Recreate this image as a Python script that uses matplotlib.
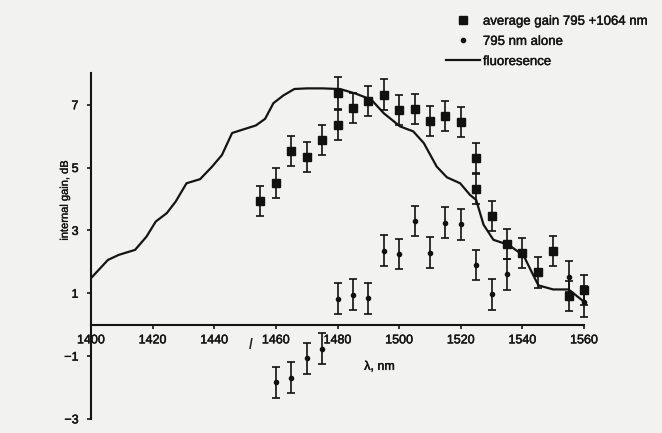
import matplotlib
matplotlib.use("Agg")
import matplotlib.pyplot as plt
from matplotlib.lines import Line2D
import matplotlib.patheffects as pe

plt.rcParams['font.family'] = ['Liberation Sans', 'DejaVu Sans']

# --- data ---
sq_wl = [1455, 1460, 1465, 1470, 1475, 1480, 1480, 1485, 1490, 1495, 1500, 1505,
         1510, 1515, 1520, 1525, 1525, 1530, 1535, 1540, 1545, 1550, 1555, 1560]
sq_gain = [3.94, 4.52, 5.53, 5.33, 5.88, 6.36, 7.37, 6.90, 7.12, 7.32, 6.84, 6.87,
           6.49, 6.65, 6.45, 5.30, 4.32, 3.46, 2.56, 2.27, 1.66, 2.35, 0.91, 1.10]
sq_err = [0.48, 0.48, 0.48, 0.48, 0.48, 0.48, 0.5, 0.48, 0.48, 0.5, 0.48, 0.48,
          0.48, 0.48, 0.48, 0.48, 0.48, 0.48, 0.48, 0.48, 0.48, 0.48, 0.48, 0.48]

c_wl = [1460, 1465, 1470, 1475, 1480, 1485, 1490, 1495, 1500, 1505, 1510, 1515,
        1520, 1525, 1530, 1535, 1555, 1560]
c_gain = [-1.83, -1.69, -1.07, -0.77, 0.82, 0.95, 0.84, 2.35, 2.25, 3.30, 2.29, 3.25,
          3.20, 1.90, 0.97, 1.60, 1.53, 0.73]
c_err = [0.49, 0.49, 0.49, 0.49, 0.49, 0.49, 0.49, 0.49, 0.49, 0.49, 0.49, 0.49,
         0.49, 0.49, 0.49, 0.49, 0.49, 0.49]

fl_wl = [1400, 1405.5, 1409, 1414.3, 1418, 1421, 1424.6, 1427.5, 1431, 1435.4, 1439.3,
         1442.5, 1445.8, 1449, 1453.5, 1456.5, 1459.2, 1462.5, 1466, 1470, 1475, 1480.8,
         1486, 1491, 1495, 1500.3, 1504.6, 1508, 1512.2, 1515.5, 1519.8, 1523, 1525,
         1527.4, 1530.6, 1535.5, 1540.4, 1543.4, 1545.2, 1550, 1555, 1560]
fl_gain = [1.48, 2.06, 2.22, 2.38, 2.8, 3.28, 3.55, 3.92, 4.5, 4.63, 5.03,
           5.4, 6.1, 6.2, 6.34, 6.55, 7.05, 7.3, 7.5, 7.52, 7.52, 7.5,
           7.35, 7.16, 6.73, 6.31, 6.15, 5.78, 5.03, 4.69, 4.5, 4.13, 3.97,
           3.18, 2.7, 2.54, 2.2, 1.6, 1.25, 1.12, 1.12, 0.73]

x_ticks = [1400, 1420, 1440, 1460, 1480, 1500, 1520, 1540, 1560]
y_ticks = [7, 5, 3, 1, -1, -3]

legend_labels = ["average gain 795 +1064 nm", "795 nm alone", "fluoresence"]

# --- figure ---
W, H = 662, 433
bg = '#f2f2f0'
ink = '#141414'
thick = [pe.withStroke(linewidth=0.35, foreground=ink)]

fig = plt.figure(figsize=(W / 100, H / 100), dpi=100, facecolor=bg)
left, right = 91 / W, 584 / W
top_px, bot_px = 73.3, 418.9
ax = fig.add_axes([left, 1 - bot_px / H, right - left, (bot_px - top_px) / H])
ax.set_facecolor(bg)

ax.plot(fl_wl, fl_gain, color=ink, lw=1.6, solid_joinstyle='round',
        solid_capstyle='round', zorder=2)

ax.errorbar(sq_wl, sq_gain, yerr=sq_err, fmt='s', color='#111111', ms=5.8,
            elinewidth=1.2, capsize=2.6, capthick=1.2, clip_on=False, zorder=3)
ax.errorbar(c_wl, c_gain, yerr=c_err, fmt='o', color='#111111', ms=3.0,
            elinewidth=1.2, capsize=2.6, capthick=1.2, clip_on=False, zorder=3)

ax.set_xlim(1400, 1560)
ax.set_ylim(-3, 8)
for s in ['top', 'right']:
    ax.spines[s].set_visible(False)
ax.spines['bottom'].set_position(('data', 0))
for s in ['left', 'bottom']:
    ax.spines[s].set_linewidth(1.5)
    ax.spines[s].set_color(ink)

ax.set_xticks(x_ticks)
ax.set_yticks(y_ticks)
ax.set_yticklabels([str(t).replace('-', '\u2212') for t in y_ticks])
ax.tick_params(axis='both', direction='out', length=3, width=1.2, colors=ink,
               labelsize=9)
ax.tick_params(axis='x', pad=4)
ax.tick_params(axis='y', pad=6)
for lab in ax.get_xticklabels() + ax.get_yticklabels():
    lab.set_path_effects(thick)

ax.set_ylabel("internal gain, dB", fontsize=8, color=ink)
ax.yaxis.set_label_coords(-0.043, 0.633)
ax.set_xlabel("\u03bb, nm", fontsize=9, color=ink)
ax.xaxis.set_label_coords(0.585, 0.168)
ax.yaxis.label.set_path_effects([pe.withStroke(linewidth=0.25, foreground=ink)])
ax.xaxis.label.set_path_effects(thick)

# stray mark near the axis (as in the scan)
ax.text(1452, -0.65, "/", fontsize=10, fontweight='bold', ha='center', va='center',
        color='#222222')

handles = [
    Line2D([], [], marker='s', ls='none', color='#111111', ms=5.8),
    Line2D([], [], marker='o', ls='none', color='#111111', ms=3.0),
    Line2D([], [], color=ink, lw=1.6),
]
leg = ax.legend(handles, legend_labels, loc='upper left',
                bbox_to_anchor=(446 / W, 1 - 15.5 / H), bbox_transform=fig.transFigure,
                frameon=False, fontsize=9.5, borderpad=0, borderaxespad=0,
                handlelength=2.6, handletextpad=0.2, labelspacing=0.6)
for t in leg.get_texts():
    t.set_color(ink)
    t.set_path_effects([pe.withStroke(linewidth=0.3, foreground=ink)])

fig.savefig("out.png", dpi=100, facecolor=bg)
